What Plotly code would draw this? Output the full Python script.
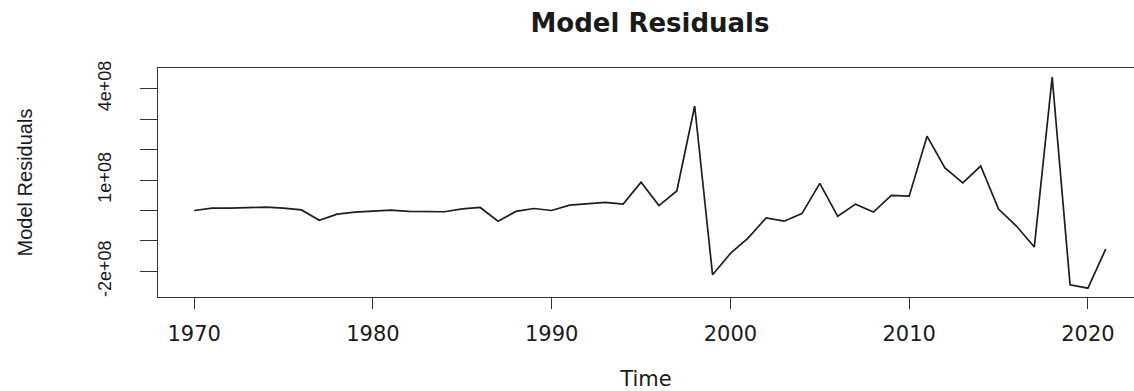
import plotly.graph_objects as go

years = list(range(1970, 2022))
residuals = [
    0.000e8, 0.077e8, 0.077e8, 0.100e8, 0.110e8, 0.080e8, 0.020e8, -0.320e8, -0.120e8, -0.050e8,
    -0.010e8, 0.010e8, -0.030e8, -0.040e8, -0.040e8, 0.055e8, 0.100e8, -0.350e8, -0.030e8, 0.066e8,
    0.000e8, 0.175e8, 0.220e8, 0.270e8, 0.210e8, 0.930e8, 0.160e8, 0.640e8, 3.430e8, -2.110e8,
    -1.410e8, -0.900e8, -0.240e8, -0.350e8, -0.100e8, 0.890e8, -0.190e8, 0.210e8, -0.050e8, 0.500e8,
    0.470e8, 2.440e8, 1.400e8, 0.910e8, 1.460e8, 0.050e8, -0.510e8, -1.200e8, 4.380e8, -2.440e8,
    -2.550e8, -1.260e8,
]
x_tick_vals = [1970, 1980, 1990, 2000, 2010, 2020]
x_tick_text = ["1970", "1980", "1990", "2000", "2010", "2020"]
y_tick_vals = [-2e8, -1e8, 0, 1e8, 2e8, 3e8, 4e8]
y_tick_text = ["-2e+08", "", "", "1e+08", "", "", "4e+08"]

axis_color = "#333333"
text_color = "#1a1a1a"

fig = go.Figure()
fig.add_trace(go.Scatter(
    x=years, y=residuals, mode="lines",
    line=dict(color="#1e1e1e", width=1.7),
    showlegend=False, hoverinfo="skip",
))

fig.update_layout(
    width=1134, height=391,
    margin=dict(l=158, r=0, t=68, b=94),
    paper_bgcolor="white", plot_bgcolor="white",
    title=dict(
        text="<b>Model Residuals</b>",
        x=650 / 1134, xref="container", xanchor="center",
        y=1 - 23 / 391, yref="container", yanchor="middle",
        font=dict(family="DejaVu Sans", size=26, color=text_color),
    ),
    xaxis=dict(
        range=[1967.975, 2022.578],
        tickvals=x_tick_vals, ticktext=x_tick_text,
        showline=True, mirror=True, linecolor=axis_color, linewidth=1.3,
        ticks="outside", ticklen=11, tickwidth=1.3, tickcolor=axis_color,
        showgrid=False, zeroline=False,
        tickfont=dict(family="DejaVu Sans", size=21, color=text_color),
        ticklabelstandoff=7,
        title=dict(text="Time", standoff=26,
                   font=dict(family="DejaVu Sans", size=21, color=text_color)),
    ),
    yaxis=dict(
        range=[-2.839e8, 4.678e8],
        tickvals=y_tick_vals, ticktext=y_tick_text,
        showline=True, mirror=False, linecolor=axis_color, linewidth=1.3,
        ticks="outside", ticklen=17, tickwidth=1.3, tickcolor=axis_color,
        showgrid=False, zeroline=False,
        tickangle=-90,
        tickfont=dict(family="Liberation Sans", size=18, color=text_color),
        ticklabelstandoff=22,
        title=dict(text="Model Residuals", standoff=56,
                   font=dict(family="Liberation Sans", size=20, color=text_color)),
    ),
)

fig.write_html("out.html")
